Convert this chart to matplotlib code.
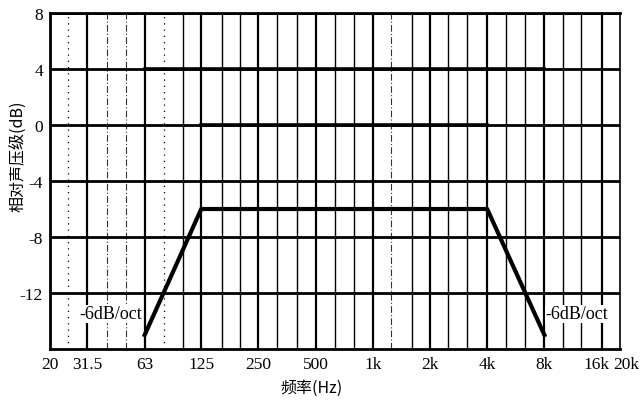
import matplotlib.pyplot as plt
from matplotlib.transforms import ScaledTranslation

# 数据
curve_freq = [63, 125, 4000, 8000]
curve_level = [-15, -6, -6, -15]
upper_freq = [63, 8000]
upper_level = [4, 4]
mid_freq = [125, 4000]
mid_level = [0, 0]

tick_freq = [20, 31.5, 63, 125, 250, 500, 1000, 2000, 4000, 8000, 16000, 20000]
tick_labels = ["20", "31.5", "63", "125", "250", "500", "1k", "2k", "4k", "8k", "16k", "20k"]
level_ticks = [8, 4, 0, -4, -8, -12]

# 1/3 倍频程网格线
third_oct = [25, 31.5, 40, 50, 63, 80, 100, 125, 160, 200, 250, 315, 400, 500, 630,
             800, 1000, 1250, 1600, 2000, 2500, 3150, 4000, 5000, 6300, 8000,
             10000, 12500, 16000]
octave = [31.5, 63, 125, 250, 500, 1000, 2000, 4000, 8000, 16000]

serif = "Liberation Serif"
cjk = ["Noto Sans CJK SC", "DejaVu Sans"]

fig = plt.figure(figsize=(6.4, 4.02), dpi=100)
ax = fig.add_axes([50 / 640, 1 - 350 / 402, 570 / 640, 336 / 402])

for f in third_oct:
    if f in octave:
        ax.axvline(f, color="black", lw=1.6, zorder=1)
    elif f in (25, 80):
        ax.axvline(f, color="black", lw=0.9, ls=(0, (1, 4)), zorder=1)
    elif f in (40, 50, 1250):
        ax.axvline(f, color="#333333", lw=0.8, ls=(0, (6, 2, 1, 2)), zorder=1)
    else:
        ax.axvline(f, color="black", lw=1.0, zorder=1)

for lv in level_ticks:
    ax.axhline(lv, color="black", lw=2.0, zorder=1)

ax.plot(upper_freq, upper_level, color="black", lw=2.6, zorder=3)
ax.plot(mid_freq, mid_level, color="black", lw=2.6, zorder=3)
ax.plot(curve_freq, curve_level, color="black", lw=3.0, zorder=3)

ax.text(28.5, -13.5, "-6dB/oct", family=serif, fontsize=13, va="center", ha="left",
        bbox=dict(facecolor="white", edgecolor="none", pad=0.3))
ax.text(8100, -13.5, "-6dB/oct", family=serif, fontsize=13, va="center", ha="left",
        bbox=dict(facecolor="white", edgecolor="none", pad=0.3))

ax.set_xscale("log")
ax.set_xlim(20, 20000)
ax.set_ylim(-16, 8)
ax.set_xticks(tick_freq)
ax.set_xticklabels(tick_labels, family=serif, fontsize=12.5)
ax.minorticks_off()
ax.set_yticks(level_ticks)
ax.set_yticklabels([str(v) for v in level_ticks], family=serif, fontsize=12.5)
ax.tick_params(length=0, pad=5)

# 16k 与 20k 标签靠得太近, 稍微错开
xlabels = ax.get_xticklabels()
xlabels[-2].set_transform(xlabels[-2].get_transform() + ScaledTranslation(-5 / 100, 0, fig.dpi_scale_trans))
xlabels[-1].set_transform(xlabels[-1].get_transform() + ScaledTranslation(6 / 100, 0, fig.dpi_scale_trans))

for side in ["left", "bottom", "top"]:
    ax.spines[side].set_linewidth(2.0)
ax.spines["right"].set_linewidth(1.2)

fig.text(18 / 640, 1 - 156 / 402, "相对声压级(dB)", rotation=90, family=cjk,
         fontsize=11.5, ha="center", va="center")
fig.text(312 / 640, 1 - 388 / 402, "频率(Hz)", family=cjk, fontsize=11.5,
         ha="center", va="center")

fig.savefig("out.png", dpi=100)
